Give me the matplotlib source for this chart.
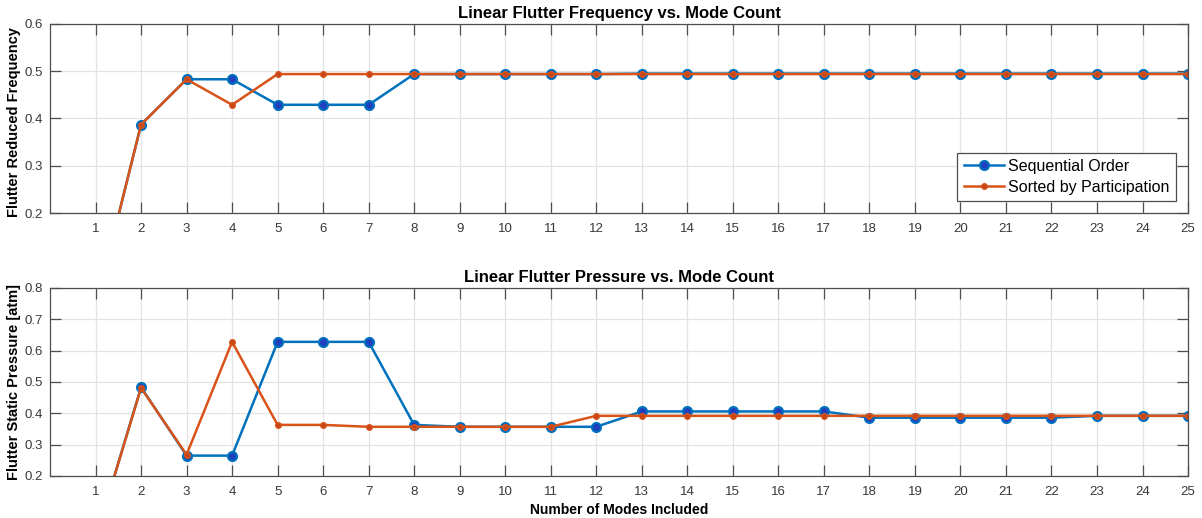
import numpy as np
import matplotlib
matplotlib.use("Agg")
import matplotlib.pyplot as plt

plt.rcParams['font.family'] = ['Liberation Sans', 'DejaVu Sans']

# Mode counts included
modes = list(range(1, 26))

# Flutter reduced frequency
freq_seq = [0.0, 0.387, 0.483, 0.483, 0.429, 0.429, 0.429, 0.494, 0.494, 0.494,
            0.494, 0.494, 0.495, 0.495, 0.495, 0.495, 0.495, 0.495, 0.495, 0.495,
            0.495, 0.495, 0.495, 0.495, 0.495]
freq_sorted = [0.0, 0.387, 0.483, 0.429, 0.494, 0.494, 0.494, 0.494, 0.494, 0.494,
               0.494, 0.494, 0.494, 0.494, 0.494, 0.494, 0.494, 0.494, 0.494, 0.494,
               0.494, 0.494, 0.494, 0.494, 0.494]

# Flutter static pressure [atm]
pres_seq = [0.0, 0.483, 0.265, 0.265, 0.628, 0.628, 0.628, 0.363, 0.357, 0.357,
            0.357, 0.357, 0.406, 0.406, 0.406, 0.406, 0.406, 0.386, 0.386, 0.386,
            0.386, 0.386, 0.392, 0.392, 0.392]
pres_sorted = [0.0, 0.481, 0.268, 0.628, 0.363, 0.363, 0.357, 0.357, 0.357, 0.357,
               0.357, 0.392, 0.392, 0.392, 0.392, 0.392, 0.392, 0.392, 0.392, 0.392,
               0.392, 0.392, 0.392, 0.392, 0.392]

blue = '#0072BD'
orange = '#D95319'
axcol = '#4d4d4d'

fig = plt.figure(figsize=(12.02, 5.18), dpi=100)
ax1 = fig.add_axes([0.0416, 0.5888, 0.9468, 0.3649])
ax2 = fig.add_axes([0.0416, 0.0811, 0.9468, 0.363])


def style(ax, ylim, yticks):
    ax.set_xlim(0, 25)
    ax.set_ylim(*ylim)
    ax.set_xticks(modes)
    ax.set_yticks(yticks)
    ax.set_yticklabels([f"{v:.1f}" for v in yticks])
    ax.grid(True, color='#e3e3e3', linewidth=0.9)
    ax.set_axisbelow(True)
    ax.tick_params(direction='in', length=8, width=0.9, top=True, right=True,
                   colors=axcol, labelcolor='#383838', labelsize=9.5)
    ax.tick_params(axis='x', pad=7)
    ax.tick_params(axis='y', pad=5)
    for s in ax.spines.values():
        s.set_color(axcol)
        s.set_linewidth(0.9)


def draw(ax, seq, srt):
    ax.plot(modes, seq, '-o', color=blue, linewidth=1.8, markersize=6.5,
            markerfacecolor='#1f3fbf', markeredgecolor=blue, markeredgewidth=1.5,
            label='Sequential Order')
    ax.plot(modes, srt, '-o', color=orange, linewidth=1.8, markersize=4,
            markerfacecolor='#c44517', markeredgecolor=orange,
            label='Sorted by Participation')


draw(ax1, freq_seq, freq_sorted)
style(ax1, (0.2, 0.6), [0.2, 0.3, 0.4, 0.5, 0.6])
ax1.set_title('Linear Flutter Frequency vs. Mode Count', fontsize=12,
              fontweight='bold', pad=4)
ax1.set_ylabel('Flutter Reduced Frequency', fontsize=10.5, fontweight='bold')
ax1.yaxis.set_label_coords(-0.0255, 0.48)
leg = ax1.legend(loc='lower right', fontsize=11.5, fancybox=False, framealpha=1,
                 edgecolor=axcol, borderaxespad=0.75, handlelength=2.5,
                 borderpad=0.4, labelspacing=0.35, handletextpad=0.3)
leg.get_frame().set_linewidth(0.9)

draw(ax2, pres_seq, pres_sorted)
style(ax2, (0.2, 0.8), [0.2, 0.3, 0.4, 0.5, 0.6, 0.7, 0.8])
ax2.set_title('Linear Flutter Pressure vs. Mode Count', fontsize=12,
              fontweight='bold', pad=4)
ax2.set_ylabel('Flutter Static Pressure [atm]', fontsize=10.5, fontweight='bold')
ax2.yaxis.set_label_coords(-0.0255, 0.5)
ax2.set_xlabel('Number of Modes Included', fontsize=10, fontweight='bold',
               labelpad=4)

fig.savefig('out.png', dpi=100)
